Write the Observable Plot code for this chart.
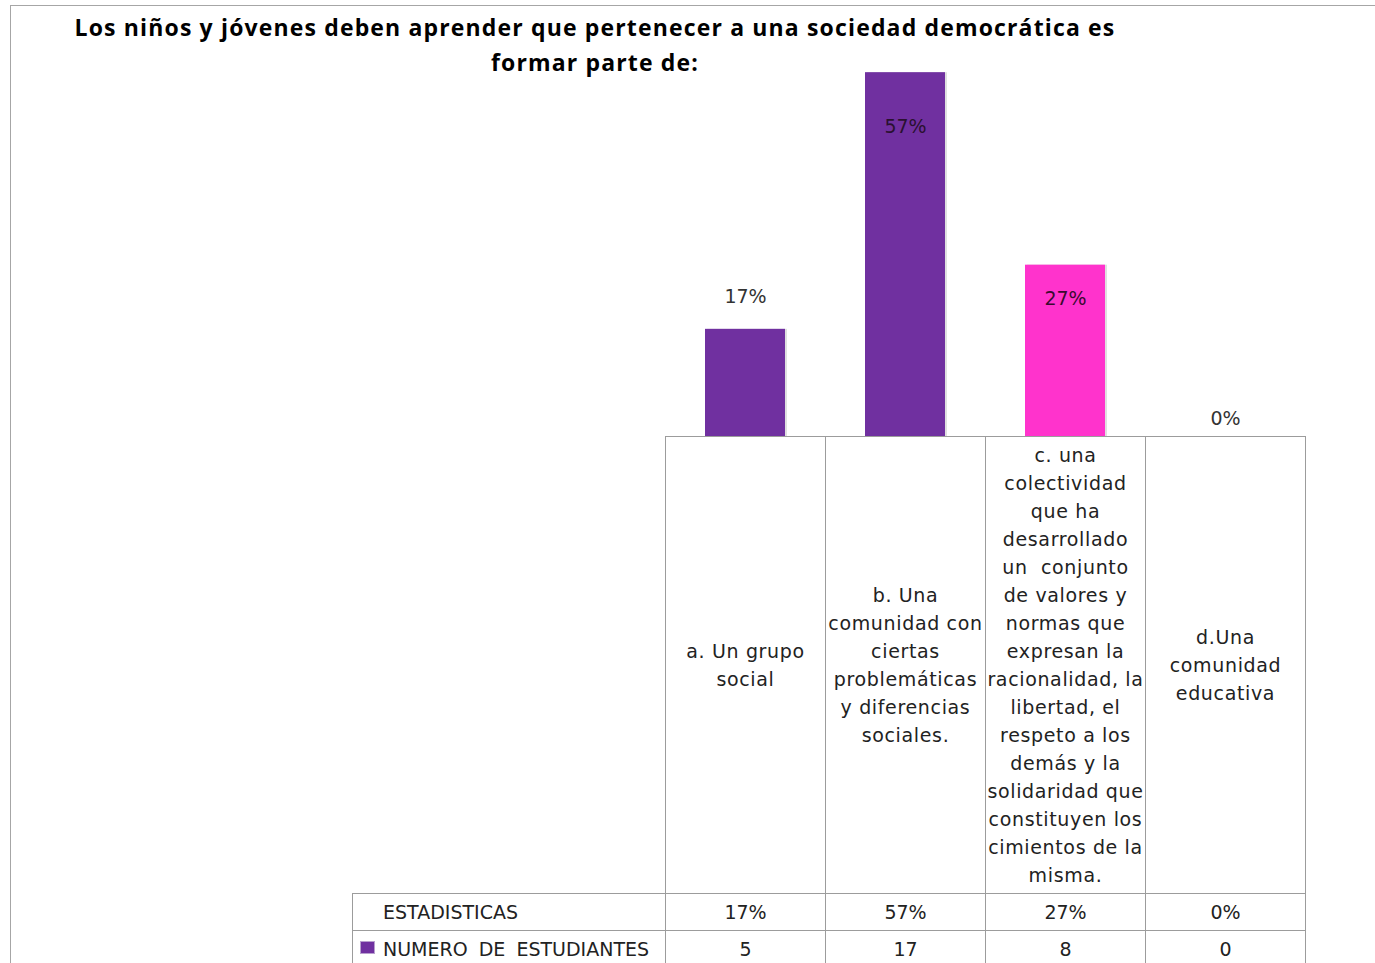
<!DOCTYPE html>
<html>
<head>
<meta charset="utf-8">
<script src="https://cdn.jsdelivr.net/npm/d3@7"></script>
<script src="https://cdn.jsdelivr.net/npm/@observablehq/plot@0.6"></script>
<style>
  body { margin: 0; background: #fff; }
  #wrap { position: relative; width: 1375px; height: 963px; overflow: hidden; font-family: "DejaVu Sans", sans-serif; color: #222; }
  #frame { position: absolute; left: 10px; top: 5px; width: 1420px; height: 1000px; border: 1px solid #a6a6a6; }
  #title { position: absolute; left: 0px; top: 10px; width: 1190px; text-align: center; font-family: "Open Sans"; font-weight: bold; font-size: 23px; letter-spacing: 1.15px; line-height: 35px; color: #000; }
  #chart { position: absolute; left: 0; top: 0; }
  .cell { position: absolute; box-sizing: border-box; border-left: 1px solid #9c9c9c; border-top: 1px solid #9c9c9c; display: flex; align-items: center; justify-content: center; text-align: center; white-space: pre; font-size: 19px; line-height: 28px; }
  .cell.head { letter-spacing: 0.65px; }
  .cell.last { border-right: 1px solid #9c9c9c; }
  .rowlabel { justify-content: flex-start; padding-left: 30px; }
  .rowlabel.series { word-spacing: 5px; }
  .key { position: absolute; left: 7px; width: 15px; height: 13px; background: #7030A0; border: 1px solid #b9a0cf; box-sizing: border-box; }
</style>
</head>
<body>
<div id="wrap">
  <div id="frame"></div>
  <div id="chart"></div>
  <div id="title"></div>
</div>
<script>
// ---------- data ----------
const titleLines = ["Los niños y jóvenes deben aprender que pertenecer a una sociedad democrática es", "formar parte de:"];
const categories = [
  "a. Un grupo\nsocial",
  "b. Una\ncomunidad con\nciertas\nproblemáticas\ny diferencias\nsociales.",
  "c. una\ncolectividad\nque ha\ndesarrollado\nun  conjunto\nde valores y\nnormas que\nexpresan la\nracionalidad, la\nlibertad, el\nrespeto a los\ndemás y la\nsolidaridad que\nconstituyen los\ncimientos de la\nmisma.",
  "d.Una\ncomunidad\neducativa"
];
const percentValues = [0.167, 0.567, 0.267, 0];
const percentLabels = ["17%", "57%", "27%", "0%"];
const studentCounts = [5, 17, 8, 0];
const statsRowName = "ESTADISTICAS";
const seriesName = "NUMERO DE ESTUDIANTES";

// ---------- style ----------
const barColors = ["#7030A0", "#7030A0", "#FF33CC", "#7030A0"];
const labelOffsets = [-32, 54, 34, -18];
const labelColors = ["#333", "#2a1030", "#3a0a30", "#333"];

const rows = categories.map((c, i) => ({cat: c, pct: percentValues[i], label: percentLabels[i], color: barColors[i], lc: labelColors[i]}));

document.getElementById("title").innerHTML = titleLines.join("<br>");

const chart = Plot.plot({
  width: 1375,
  height: 437,
  marginLeft: 665,
  marginRight: 70,
  marginTop: 51,
  marginBottom: 1,
  style: {background: "transparent", fontFamily: "DejaVu Sans", fontSize: "19px"},
  x: {domain: categories, paddingInner: 0.5, paddingOuter: 0.25, axis: null},
  y: {domain: [0, 0.6], axis: null},
  color: {type: "identity"},
  marks: [
    Plot.barY(rows, {x: "cat", y: "pct", fill: "#000", fillOpacity: 0.12, dx: 2}),
    Plot.barY(rows, {x: "cat", y: "pct", fill: "color"}),
    ...rows.map((r, i) => Plot.text([r], {x: "cat", y: "pct", text: "label", fill: "lc", dy: labelOffsets[i], fontSize: 19}))
  ]
});
document.getElementById("chart").appendChild(chart);

// ---------- data table under the plot, aligned with the x scale ----------
const xs = chart.scale("x");
const step = xs.step, bw = xs.bandwidth;
const colLeft = c => xs.apply(c) - (step - bw) / 2;
const tableTop = 436, headerH = 457, rowH = 37;
const tableLeft = 352;
const wrap = d3.select("#wrap");

categories.forEach((c, i) => {
  const last = i === categories.length - 1;
  const left = colLeft(c);
  const w = (step + (last ? 1 : 0)) + "px";
  wrap.append("div").attr("class", "cell head" + (last ? " last" : ""))
    .style("left", left + "px").style("top", tableTop + "px")
    .style("width", w).style("height", headerH + "px")
    .text(c);
  wrap.append("div").attr("class", "cell" + (last ? " last" : ""))
    .style("left", left + "px").style("top", (tableTop + headerH) + "px")
    .style("width", w).style("height", rowH + "px")
    .text(percentLabels[i]);
  wrap.append("div").attr("class", "cell" + (last ? " last" : ""))
    .style("left", left + "px").style("top", (tableTop + headerH + rowH) + "px")
    .style("width", w).style("height", rowH + "px")
    .text(studentCounts[i]);
});
const firstLeft = colLeft(categories[0]);
wrap.append("div").attr("class", "cell rowlabel")
  .style("left", tableLeft + "px").style("top", (tableTop + headerH) + "px")
  .style("width", (firstLeft - tableLeft) + "px").style("height", rowH + "px")
  .text(statsRowName);
const keyRow = wrap.append("div").attr("class", "cell rowlabel series")
  .style("left", tableLeft + "px").style("top", (tableTop + headerH + rowH) + "px")
  .style("width", (firstLeft - tableLeft) + "px").style("height", rowH + "px");
keyRow.append("span").attr("class", "key").style("top", "10px");
keyRow.append("span").text(seriesName);
</script>
</body>
</html>
